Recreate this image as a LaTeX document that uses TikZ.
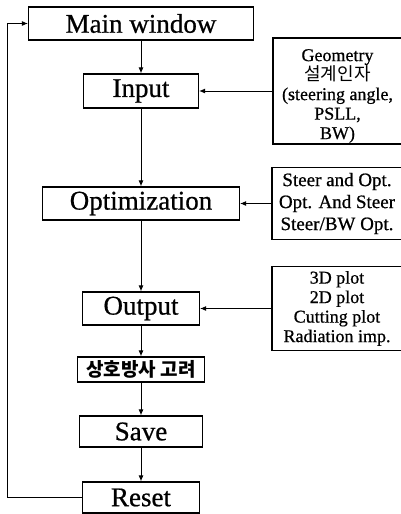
\documentclass[tikz,border=0pt]{standalone}
\usepackage{fontspec}
\setmainfont{Liberation Serif}[FakeBold=0.7]
\newfontfamily\kr{Noto Sans CJK KR}
\usetikzlibrary{arrows.meta}

\begin{document}
\begin{tikzpicture}
  [
    x=1pt, y=-1pt,
    box/.style={draw, line width=1.1pt, inner sep=0pt, font=\fontsize{27}{30}\selectfont},
    sidebox/.style={draw, line width=1.1pt, inner sep=0pt, align=center, font=\fontsize{18}{19.5}\selectfont},
    arr/.style={-{Latex[length=6pt,width=5pt]}, line width=1pt}
  ]
  \useasboundingbox (0,0) rectangle (400,514);
  % main column
  \node[box, minimum width=225pt, minimum height=33pt] (main) at (141,23.5) {Main window};
  \node[box, minimum width=115pt, minimum height=34pt] (input) at (141,91) {Input};
  \node[box, minimum width=197pt, minimum height=33pt] (opt) at (141,203.5) {Optimization};
  \node[box, minimum width=117pt, minimum height=33pt] (output) at (141,308.5) {Output};
  \node[box, minimum width=127pt, minimum height=25pt, font=\kr\bfseries\fontsize{19}{21}\selectfont] (mutual) at (141,369.5) {상호방사 고려};
  \node[box, minimum width=123pt, minimum height=31pt] (save) at (141,431.5) {Save};
  \node[box, minimum width=117pt, minimum height=31pt] (reset) at (141,497.5) {Reset};
  % side boxes
  \node[sidebox, minimum width=129pt, minimum height=106pt, text height=100pt] (geom) at (337.5,91)
    {Geometry\\{\kr 설계인자}\\(steering angle,\\PSLL,\\BW)};
  \node[sidebox, minimum width=130pt, minimum height=72pt, font=\fontsize{19}{22}\selectfont] (steer) at (337,203.5)
    {Steer and Opt.\\Opt. And Steer\\Steer/BW Opt.};
  \node[sidebox, minimum width=130pt, minimum height=84pt] (plot) at (337,308.5)
    {3D plot\\2D plot\\Cutting plot\\Radiation imp.};
  \coordinate (loop) at (7,0);

  \draw[arr] (main) -- (input);
  \draw[arr] (input) -- (opt);
  \draw[arr] (opt) -- (output);
  \draw[arr] (output) -- (mutual);
  \draw[arr] (mutual) -- (save);
  \draw[arr] (save) -- (reset);
  \draw[arr] (geom) -- (input);
  \draw[arr] (steer) -- (opt);
  \draw[arr] (plot) -- (output);
  \draw[arr] (reset.west) -- (reset.west -| loop) -- (main.west -| loop) -- (main.west);
\end{tikzpicture}
\end{document}
